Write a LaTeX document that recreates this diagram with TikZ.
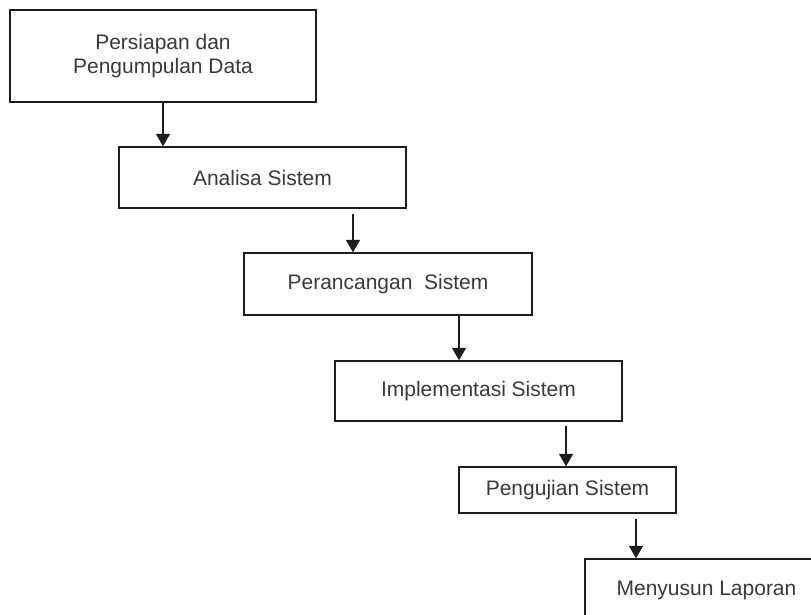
\documentclass[tikz,border=0pt]{standalone}
\usepackage{fontspec}
\setmainfont{Liberation Sans}
\usepackage{tikz}
\usetikzlibrary{calc,arrows.meta}
\definecolor{ink}{HTML}{1E1E1E}
\definecolor{txt}{HTML}{3A3A3A}
\tikzset{
  box/.style={draw=ink, line width=1.3pt, fill=white, rectangle, inner sep=0pt,
    text=txt, align=center, font=\fontsize{21}{24}\selectfont},
  arr/.style={draw=ink, line width=1.3pt, -{Triangle[length=12.5pt,width=14pt]}},
}
\begin{document}
\begin{tikzpicture}[x=1pt,y=-1pt]
  \useasboundingbox (0,0) rectangle (811,614);
  \clip (0,0) rectangle (811,614);

  % stages, one step lower and to the right each time
  \node[box, minimum width=306pt, minimum height=92pt] (prep) at (163,56) {Persiapan dan\\Pengumpulan Data};
  \node[box, minimum width=287pt, minimum height=61pt] (anls) at (262.5,177.5) {Analisa Sistem};
  \node[box, minimum width=288pt, minimum height=62pt] (rcng) at (388,284) {Perancangan\ \ Sistem};
  \node[box, minimum width=287pt, minimum height=60pt] (impl) at (478.5,391) {Implementasi Sistem};
  \node[box, minimum width=217pt, minimum height=46pt] (uji) at (567.5,490) {Pengujian Sistem};
  \node[box, minimum width=243pt, minimum height=62pt] (lapor) at (706.5,590) {Menyusun Laporan};

  % start points of the arrows
  \coordinate (s1) at (prep.south);
  \path (anls.south) ++(90.5,5) coordinate (s2);
  \path (rcng.south) ++(71,0) coordinate (s3);
  \path (impl.south) ++(87.5,4) coordinate (s4);
  \path (uji.south) ++(68.5,5) coordinate (s5);

  \draw[arr] (s1) -- (s1 |- anls.north);
  \draw[arr] (s2) -- (s2 |- rcng.north);
  \draw[arr] (s3) -- (s3 |- impl.north);
  \draw[arr] (s4) -- (s4 |- uji.north);
  \draw[arr] (s5) -- (s5 |- lapor.north);
\end{tikzpicture}
\end{document}
